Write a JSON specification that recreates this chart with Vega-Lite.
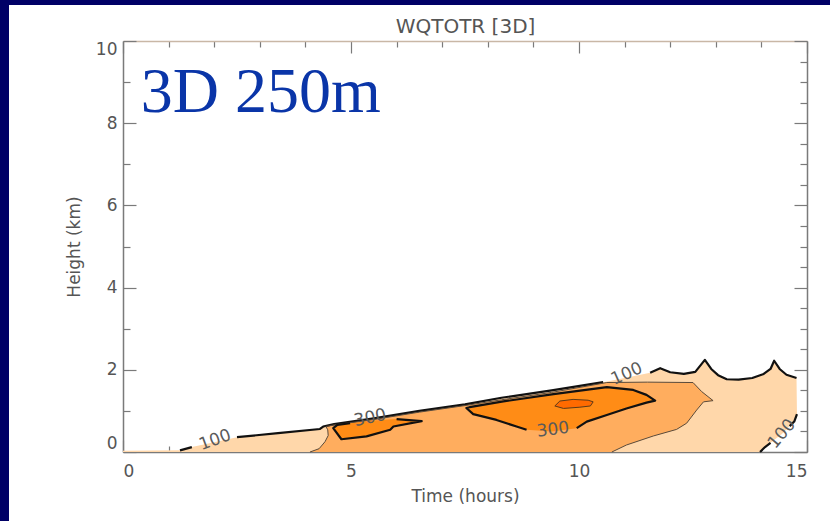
{
  "$schema": "https://vega.github.io/schema/vega-lite/v6.json",
  "width": 821,
  "height": 516,
  "autosize": "none",
  "padding": {"left": 9, "top": 5, "right": 0, "bottom": 0},
  "background": "#000066",
  "config": {
    "view": {"fill": "white", "stroke": null},
    "axis": {
      "grid": false,
      "zindex": 1,
      "domainColor": "#7a7a7a",
      "domainWidth": 1.5,
      "tickColor": "#7a7a7a",
      "tickWidth": 1.2,
      "labelFont": "DejaVu Sans",
      "labelFontSize": 17,
      "labelColor": "#555555",
      "labelOverlap": false,
      "titleFont": "DejaVu Sans",
      "titleFontSize": 17,
      "titleFontWeight": "normal",
      "titleColor": "#555555"
    }
  },
  "datasets": {
    "fills": [
      {"g": "p1", "band": "100-200", "t": 0, "h": 0},
      {"g": "p1", "band": "100-200", "t": 0, "h": 0.03},
      {"g": "p1", "band": "100-200", "t": 1.25, "h": 0.04},
      {"g": "p1", "band": "100-200", "t": 1.51, "h": 0.12},
      {"g": "p1", "band": "100-200", "t": 2.0, "h": 0.24},
      {"g": "p1", "band": "100-200", "t": 2.5, "h": 0.36},
      {"g": "p1", "band": "100-200", "t": 3.4, "h": 0.46},
      {"g": "p1", "band": "100-200", "t": 4.32, "h": 0.56},
      {"g": "p1", "band": "100-200", "t": 4.39, "h": 0.62},
      {"g": "p1", "band": "100-200", "t": 4.63, "h": 0.68},
      {"g": "p1", "band": "100-200", "t": 5.5, "h": 0.82},
      {"g": "p1", "band": "100-200", "t": 6.5, "h": 1.0},
      {"g": "p1", "band": "100-200", "t": 7.5, "h": 1.16},
      {"g": "p1", "band": "100-200", "t": 8.3, "h": 1.32},
      {"g": "p1", "band": "100-200", "t": 9.4, "h": 1.5},
      {"g": "p1", "band": "100-200", "t": 10.53, "h": 1.7},
      {"g": "p1", "band": "100-200", "t": 11.0, "h": 1.8},
      {"g": "p1", "band": "100-200", "t": 11.56, "h": 1.93},
      {"g": "p1", "band": "100-200", "t": 11.78, "h": 2.04},
      {"g": "p1", "band": "100-200", "t": 12.0, "h": 1.94},
      {"g": "p1", "band": "100-200", "t": 12.3, "h": 1.9},
      {"g": "p1", "band": "100-200", "t": 12.55, "h": 1.95},
      {"g": "p1", "band": "100-200", "t": 12.76, "h": 2.24},
      {"g": "p1", "band": "100-200", "t": 12.9, "h": 2.02},
      {"g": "p1", "band": "100-200", "t": 13.05, "h": 1.87},
      {"g": "p1", "band": "100-200", "t": 13.24, "h": 1.77},
      {"g": "p1", "band": "100-200", "t": 13.5, "h": 1.76},
      {"g": "p1", "band": "100-200", "t": 13.8, "h": 1.8},
      {"g": "p1", "band": "100-200", "t": 14.05, "h": 1.9},
      {"g": "p1", "band": "100-200", "t": 14.2, "h": 2.02},
      {"g": "p1", "band": "100-200", "t": 14.28, "h": 2.22},
      {"g": "p1", "band": "100-200", "t": 14.4, "h": 2.02},
      {"g": "p1", "band": "100-200", "t": 14.55, "h": 1.88},
      {"g": "p1", "band": "100-200", "t": 14.77, "h": 1.8},
      {"g": "p1", "band": "100-200", "t": 14.78, "h": 0.92},
      {"g": "p1", "band": "100-200", "t": 14.72, "h": 0.74},
      {"g": "p1", "band": "100-200", "t": 14.45, "h": 0.44},
      {"g": "p1", "band": "100-200", "t": 14.08, "h": 0.12},
      {"g": "p1", "band": "100-200", "t": 13.97, "h": 0},

      {"g": "p2", "band": "200-300", "t": 4.1, "h": 0},
      {"g": "p2", "band": "200-300", "t": 4.3, "h": 0.08},
      {"g": "p2", "band": "200-300", "t": 4.43, "h": 0.25},
      {"g": "p2", "band": "200-300", "t": 4.5, "h": 0.4},
      {"g": "p2", "band": "200-300", "t": 4.49, "h": 0.54},
      {"g": "p2", "band": "200-300", "t": 4.45, "h": 0.62},
      {"g": "p2", "band": "200-300", "t": 4.63, "h": 0.66},
      {"g": "p2", "band": "200-300", "t": 5.5, "h": 0.79},
      {"g": "p2", "band": "200-300", "t": 6.5, "h": 0.97},
      {"g": "p2", "band": "200-300", "t": 7.5, "h": 1.13},
      {"g": "p2", "band": "200-300", "t": 8.3, "h": 1.27},
      {"g": "p2", "band": "200-300", "t": 9.4, "h": 1.45},
      {"g": "p2", "band": "200-300", "t": 10.61, "h": 1.69},
      {"g": "p2", "band": "200-300", "t": 11.5, "h": 1.7},
      {"g": "p2", "band": "200-300", "t": 12.5, "h": 1.69},
      {"g": "p2", "band": "200-300", "t": 12.69, "h": 1.47},
      {"g": "p2", "band": "200-300", "t": 12.94, "h": 1.25},
      {"g": "p2", "band": "200-300", "t": 12.73, "h": 1.22},
      {"g": "p2", "band": "200-300", "t": 12.58, "h": 1.02},
      {"g": "p2", "band": "200-300", "t": 12.36, "h": 0.7},
      {"g": "p2", "band": "200-300", "t": 12.14, "h": 0.55},
      {"g": "p2", "band": "200-300", "t": 11.63, "h": 0.39},
      {"g": "p2", "band": "200-300", "t": 11.04, "h": 0.17},
      {"g": "p2", "band": "200-300", "t": 10.72, "h": 0},

      {"g": "p3", "band": "300-400", "t": 4.61, "h": 0.58},
      {"g": "p3", "band": "300-400", "t": 4.79, "h": 0.31},
      {"g": "p3", "band": "300-400", "t": 5.34, "h": 0.38},
      {"g": "p3", "band": "300-400", "t": 5.86, "h": 0.54},
      {"g": "p3", "band": "300-400", "t": 5.93, "h": 0.62},
      {"g": "p3", "band": "300-400", "t": 6.55, "h": 0.75},
      {"g": "p3", "band": "300-400", "t": 6.0, "h": 0.8},
      {"g": "p3", "band": "300-400", "t": 5.4, "h": 0.76},
      {"g": "p3", "band": "300-400", "t": 4.98, "h": 0.7},
      {"g": "p3", "band": "300-400", "t": 4.7, "h": 0.66},

      {"g": "p4", "band": "300-400", "t": 7.53, "h": 1.07},
      {"g": "p4", "band": "300-400", "t": 7.68, "h": 0.92},
      {"g": "p4", "band": "300-400", "t": 8.19, "h": 0.78},
      {"g": "p4", "band": "300-400", "t": 8.63, "h": 0.62},
      {"g": "p4", "band": "300-400", "t": 8.85, "h": 0.54},
      {"g": "p4", "band": "300-400", "t": 9.4, "h": 0.5},
      {"g": "p4", "band": "300-400", "t": 9.95, "h": 0.58},
      {"g": "p4", "band": "300-400", "t": 10.17, "h": 0.74},
      {"g": "p4", "band": "300-400", "t": 10.61, "h": 0.9},
      {"g": "p4", "band": "300-400", "t": 11.04, "h": 1.06},
      {"g": "p4", "band": "300-400", "t": 11.48, "h": 1.2},
      {"g": "p4", "band": "300-400", "t": 11.67, "h": 1.25},
      {"g": "p4", "band": "300-400", "t": 11.48, "h": 1.39},
      {"g": "p4", "band": "300-400", "t": 11.19, "h": 1.51},
      {"g": "p4", "band": "300-400", "t": 10.61, "h": 1.58},
      {"g": "p4", "band": "300-400", "t": 9.44, "h": 1.41},
      {"g": "p4", "band": "300-400", "t": 8.34, "h": 1.23},
      {"g": "p4", "band": "300-400", "t": 7.6, "h": 1.09},

      {"g": "p5", "band": "400-500", "t": 9.47, "h": 1.12},
      {"g": "p5", "band": "400-500", "t": 9.58, "h": 1.24},
      {"g": "p5", "band": "400-500", "t": 9.87, "h": 1.28},
      {"g": "p5", "band": "400-500", "t": 10.2, "h": 1.26},
      {"g": "p5", "band": "400-500", "t": 10.31, "h": 1.22},
      {"g": "p5", "band": "400-500", "t": 10.25, "h": 1.12},
      {"g": "p5", "band": "400-500", "t": 10.02, "h": 1.09},
      {"g": "p5", "band": "400-500", "t": 9.66, "h": 1.06}
    ],
    "contours": [
      {"seg": "c1", "level": 100, "t": 1.25, "h": 0.04},
      {"seg": "c1", "level": 100, "t": 1.51, "h": 0.12},

      {"seg": "c2", "level": 100, "t": 2.5, "h": 0.36},
      {"seg": "c2", "level": 100, "t": 3.4, "h": 0.46},
      {"seg": "c2", "level": 100, "t": 4.32, "h": 0.56},
      {"seg": "c2", "level": 100, "t": 4.39, "h": 0.62},
      {"seg": "c2", "level": 100, "t": 4.63, "h": 0.68},
      {"seg": "c2", "level": 100, "t": 5.5, "h": 0.82},
      {"seg": "c2", "level": 100, "t": 6.5, "h": 1.0},
      {"seg": "c2", "level": 100, "t": 7.5, "h": 1.16},
      {"seg": "c2", "level": 100, "t": 8.3, "h": 1.32},
      {"seg": "c2", "level": 100, "t": 9.4, "h": 1.5},
      {"seg": "c2", "level": 100, "t": 10.53, "h": 1.7},

      {"seg": "c3", "level": 100, "t": 11.56, "h": 1.93},
      {"seg": "c3", "level": 100, "t": 11.78, "h": 2.04},
      {"seg": "c3", "level": 100, "t": 12.0, "h": 1.94},
      {"seg": "c3", "level": 100, "t": 12.3, "h": 1.9},
      {"seg": "c3", "level": 100, "t": 12.55, "h": 1.95},
      {"seg": "c3", "level": 100, "t": 12.76, "h": 2.24},
      {"seg": "c3", "level": 100, "t": 12.9, "h": 2.02},
      {"seg": "c3", "level": 100, "t": 13.05, "h": 1.87},
      {"seg": "c3", "level": 100, "t": 13.24, "h": 1.77},
      {"seg": "c3", "level": 100, "t": 13.5, "h": 1.76},
      {"seg": "c3", "level": 100, "t": 13.8, "h": 1.8},
      {"seg": "c3", "level": 100, "t": 14.05, "h": 1.9},
      {"seg": "c3", "level": 100, "t": 14.2, "h": 2.02},
      {"seg": "c3", "level": 100, "t": 14.28, "h": 2.22},
      {"seg": "c3", "level": 100, "t": 14.4, "h": 2.02},
      {"seg": "c3", "level": 100, "t": 14.55, "h": 1.88},
      {"seg": "c3", "level": 100, "t": 14.77, "h": 1.8},

      {"seg": "c4", "level": 100, "t": 14.78, "h": 0.92},
      {"seg": "c4", "level": 100, "t": 14.72, "h": 0.74},
      {"seg": "c4", "level": 100, "t": 14.62, "h": 0.63},

      {"seg": "c5", "level": 100, "t": 14.2, "h": 0.22},
      {"seg": "c5", "level": 100, "t": 14.08, "h": 0.12},
      {"seg": "c5", "level": 100, "t": 13.97, "h": 0},

      {"seg": "c6", "level": 200, "t": 4.1, "h": 0},
      {"seg": "c6", "level": 200, "t": 4.3, "h": 0.08},
      {"seg": "c6", "level": 200, "t": 4.43, "h": 0.25},
      {"seg": "c6", "level": 200, "t": 4.5, "h": 0.4},
      {"seg": "c6", "level": 200, "t": 4.49, "h": 0.54},
      {"seg": "c6", "level": 200, "t": 4.45, "h": 0.62},
      {"seg": "c6", "level": 200, "t": 4.63, "h": 0.66},
      {"seg": "c6", "level": 200, "t": 5.5, "h": 0.79},
      {"seg": "c6", "level": 200, "t": 6.5, "h": 0.97},
      {"seg": "c6", "level": 200, "t": 7.5, "h": 1.13},
      {"seg": "c6", "level": 200, "t": 8.3, "h": 1.27},
      {"seg": "c6", "level": 200, "t": 9.4, "h": 1.45},
      {"seg": "c6", "level": 200, "t": 10.61, "h": 1.69},
      {"seg": "c6", "level": 200, "t": 11.5, "h": 1.7},
      {"seg": "c6", "level": 200, "t": 12.5, "h": 1.69},
      {"seg": "c6", "level": 200, "t": 12.69, "h": 1.47},
      {"seg": "c6", "level": 200, "t": 12.94, "h": 1.25},
      {"seg": "c6", "level": 200, "t": 12.73, "h": 1.22},
      {"seg": "c6", "level": 200, "t": 12.58, "h": 1.02},
      {"seg": "c6", "level": 200, "t": 12.36, "h": 0.7},
      {"seg": "c6", "level": 200, "t": 12.14, "h": 0.55},
      {"seg": "c6", "level": 200, "t": 11.63, "h": 0.39},
      {"seg": "c6", "level": 200, "t": 11.04, "h": 0.17},
      {"seg": "c6", "level": 200, "t": 10.72, "h": 0},

      {"seg": "c7", "level": 300, "t": 6.0, "h": 0.8},
      {"seg": "c7", "level": 300, "t": 6.55, "h": 0.75},
      {"seg": "c7", "level": 300, "t": 5.93, "h": 0.62},
      {"seg": "c7", "level": 300, "t": 5.86, "h": 0.54},
      {"seg": "c7", "level": 300, "t": 5.34, "h": 0.38},
      {"seg": "c7", "level": 300, "t": 4.79, "h": 0.31},
      {"seg": "c7", "level": 300, "t": 4.61, "h": 0.58},
      {"seg": "c7", "level": 300, "t": 4.7, "h": 0.66},
      {"seg": "c7", "level": 300, "t": 4.98, "h": 0.7},

      {"seg": "c8", "level": 300, "t": 9.95, "h": 0.58},
      {"seg": "c8", "level": 300, "t": 10.17, "h": 0.74},
      {"seg": "c8", "level": 300, "t": 10.61, "h": 0.9},
      {"seg": "c8", "level": 300, "t": 11.04, "h": 1.06},
      {"seg": "c8", "level": 300, "t": 11.48, "h": 1.2},
      {"seg": "c8", "level": 300, "t": 11.67, "h": 1.25},
      {"seg": "c8", "level": 300, "t": 11.48, "h": 1.39},
      {"seg": "c8", "level": 300, "t": 11.19, "h": 1.51},
      {"seg": "c8", "level": 300, "t": 10.61, "h": 1.58},
      {"seg": "c8", "level": 300, "t": 9.44, "h": 1.41},
      {"seg": "c8", "level": 300, "t": 8.34, "h": 1.23},
      {"seg": "c8", "level": 300, "t": 7.6, "h": 1.09},
      {"seg": "c8", "level": 300, "t": 7.53, "h": 1.07},
      {"seg": "c8", "level": 300, "t": 7.68, "h": 0.92},
      {"seg": "c8", "level": 300, "t": 8.19, "h": 0.78},
      {"seg": "c8", "level": 300, "t": 8.63, "h": 0.62},
      {"seg": "c8", "level": 300, "t": 8.85, "h": 0.54},

      {"seg": "c9", "level": 400, "t": 9.47, "h": 1.12},
      {"seg": "c9", "level": 400, "t": 9.58, "h": 1.24},
      {"seg": "c9", "level": 400, "t": 9.87, "h": 1.28},
      {"seg": "c9", "level": 400, "t": 10.2, "h": 1.26},
      {"seg": "c9", "level": 400, "t": 10.31, "h": 1.22},
      {"seg": "c9", "level": 400, "t": 10.25, "h": 1.12},
      {"seg": "c9", "level": 400, "t": 10.02, "h": 1.09},
      {"seg": "c9", "level": 400, "t": 9.66, "h": 1.06},
      {"seg": "c9", "level": 400, "t": 9.47, "h": 1.12}
    ],
    "contourLabels": [
      {"t": 2.02, "h": 0.29, "text": "100", "tangent": -20},
      {"t": 5.42, "h": 0.83, "text": "300", "tangent": -12},
      {"t": 9.43, "h": 0.54, "text": "300", "tangent": -7},
      {"t": 11.05, "h": 1.9, "text": "100", "tangent": -24},
      {"t": 14.45, "h": 0.44, "text": "100", "tangent": -50}
    ],
    "caption": [
      {"t": 0.39, "h": 8.27, "caption": "3D 250m"}
    ]
  },
  "layer": [
    {
      "data": {"name": "fills"},
      "mark": {"type": "line", "strokeWidth": 0, "order": false},
      "encoding": {
        "x": {
          "field": "t", "type": "quantitative",
          "scale": {"domain": [0, 15], "range": [114, 798], "nice": false, "zero": false},
          "axis": {
            "orient": "bottom", "offset": -69,
            "values": [0, 1, 2, 3, 4, 5, 6, 7, 8, 9, 10, 11, 12, 13, 14, 15],
            "format": "d",
            "labelExpr": "datum.value % 5 === 0 ? datum.label : ''",
            "tickSize": {"condition": {"test": "datum.value % 5 === 0", "value": -12}, "value": -6},
            "labelPadding": 23,
            "title": "Time (hours)", "titlePadding": 3
          }
        },
        "y": {
          "field": "h", "type": "quantitative",
          "scale": {"domain": [0, 10], "range": [447, 36], "nice": false, "zero": false},
          "axis": {
            "orient": "left", "offset": -114,
            "values": [0, 0.5, 1, 1.5, 2, 2.5, 3, 3.5, 4, 4.5, 5, 5.5, 6, 6.5, 7, 7.5, 8, 8.5, 9, 9.5, 10],
            "format": "d",
            "labelExpr": "datum.value % 2 === 0 ? datum.label : ''",
            "tickSize": {"condition": {"test": "datum.value % 2 === 0", "value": -13}, "value": -7},
            "labelPadding": 19, "labelFlush": true,
            "title": "Height (km)", "titlePadding": 12
          }
        },
        "detail": {"field": "g"},
        "fill": {
          "field": "band", "type": "nominal",
          "scale": {"domain": ["100-200", "200-300", "300-400", "400-500"], "range": ["#ffd7aa", "#ffad5e", "#ff8c16", "#ff6a00"]},
          "legend": null
        }
      }
    },
    {
      "data": {"name": "contours"},
      "mark": {"type": "line", "order": false, "strokeJoin": "round"},
      "encoding": {
        "x": {
          "field": "t", "type": "quantitative",
          "axis": {
            "orient": "top", "offset": -36,
            "values": [0, 1, 2, 3, 4, 5, 6, 7, 8, 9, 10, 11, 12, 13, 14, 15],
            "labels": false,
            "tickSize": {"condition": {"test": "datum.value % 5 === 0", "value": -12}, "value": -6},
            "domainColor": "#c9b7a6",
            "title": "WQTOTR [3D]", "titleFontSize": 20, "titlePadding": 4
          }
        },
        "y": {
          "field": "h", "type": "quantitative",
          "axis": {
            "orient": "right", "offset": -23,
            "values": [0, 0.5, 1, 1.5, 2, 2.5, 3, 3.5, 4, 4.5, 5, 5.5, 6, 6.5, 7, 7.5, 8, 8.5, 9, 9.5, 10],
            "labels": false,
            "tickSize": {"condition": {"test": "datum.value % 2 === 0", "value": -13}, "value": -7},
            "title": null
          }
        },
        "detail": {"field": "seg"},
        "stroke": {
          "field": "level", "type": "ordinal",
          "scale": {"type": "ordinal", "domain": [100, 200, 300, 400], "range": ["#111111", "#5a4a3a", "#111111", "#5a3a1a"]},
          "legend": null
        },
        "strokeWidth": {
          "field": "level", "type": "ordinal",
          "scale": {"type": "ordinal", "domain": [100, 200, 300, 400], "range": [2.2, 1, 2.2, 1]},
          "legend": null
        }
      }
    },
    {
      "data": {"name": "contourLabels"},
      "mark": {"type": "text", "font": "DejaVu Sans", "fontSize": 17, "color": "#5a5a5a", "align": "center", "baseline": "middle"},
      "encoding": {
        "x": {"field": "t", "type": "quantitative", "axis": null},
        "y": {"field": "h", "type": "quantitative", "axis": null},
        "text": {"field": "text"},
        "angle": {"field": "tangent", "type": "quantitative", "scale": null}
      }
    },
    {
      "data": {"name": "caption"},
      "mark": {"type": "text", "font": "Liberation Serif", "fontSize": 64, "color": "#0a35a8", "align": "left", "baseline": "alphabetic"},
      "encoding": {
        "x": {"field": "t", "type": "quantitative", "axis": null},
        "y": {"field": "h", "type": "quantitative", "axis": null},
        "text": {"field": "caption"}
      }
    }
  ],
  "resolve": {"axis": {"x": "independent", "y": "independent"}}
}
